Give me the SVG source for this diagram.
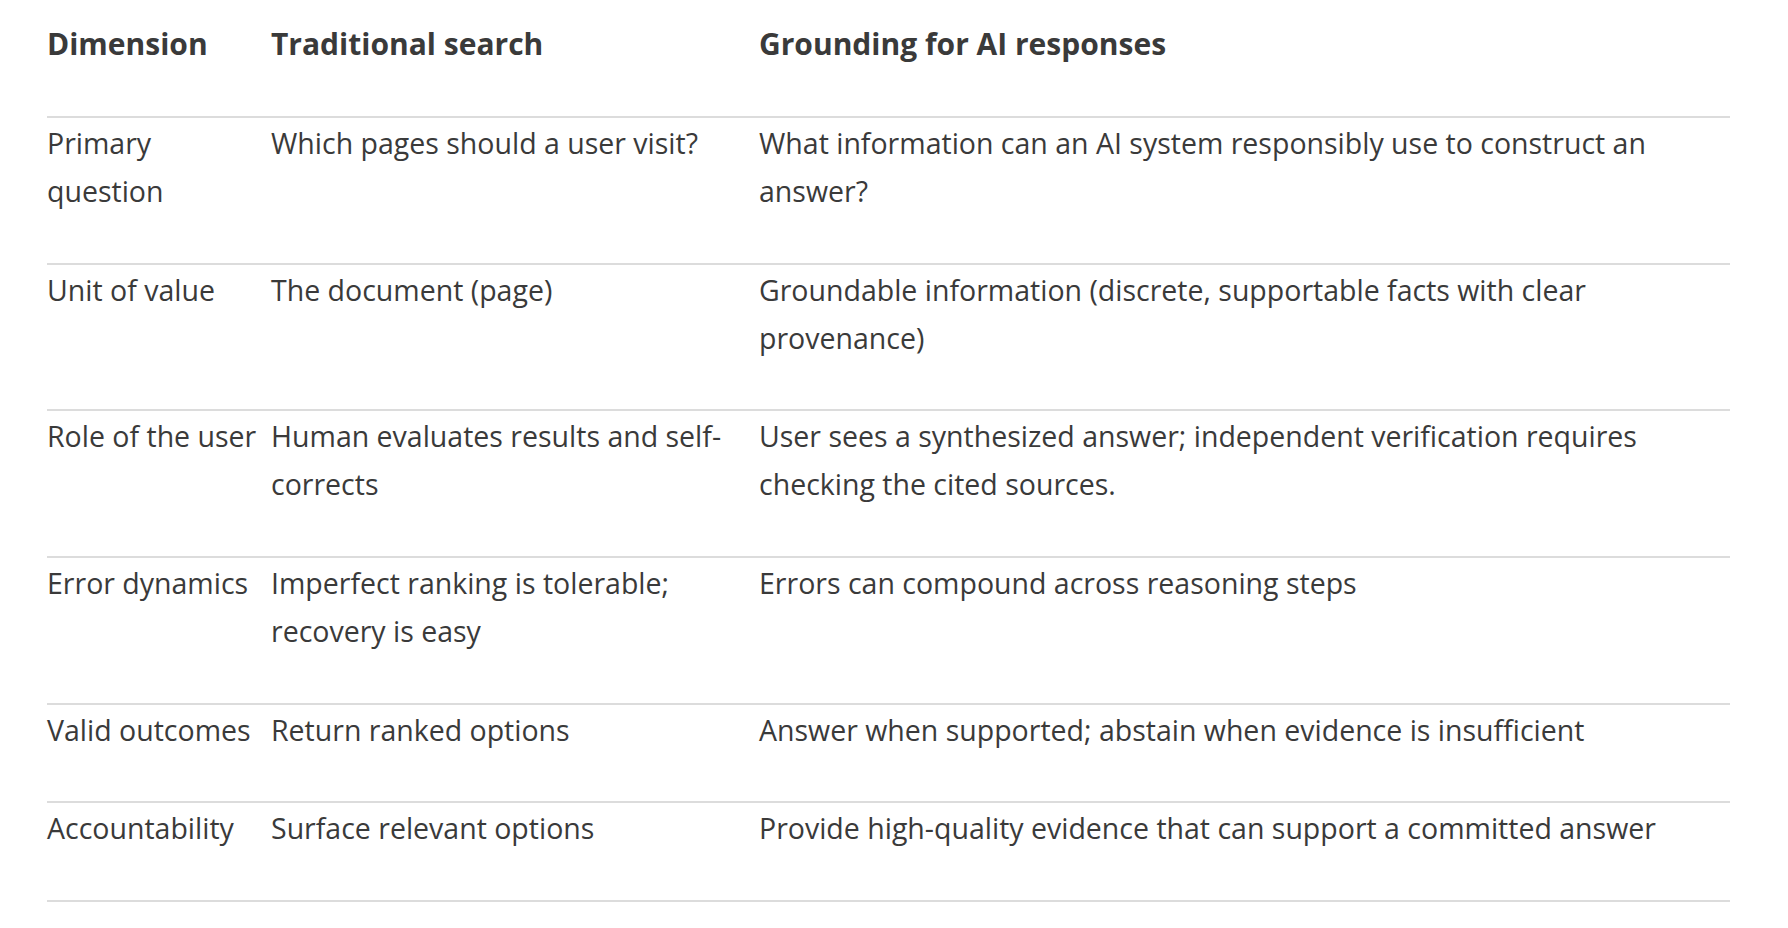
<svg xmlns="http://www.w3.org/2000/svg" width="1788" height="928" viewBox="0 0 1788 928">
<style>
text{font-family:"Open Sans","Liberation Sans",sans-serif;font-size:28.5px;fill:#3a3a3a}
.h{font-weight:bold;font-size:30px}
line{stroke:#dcdcdc;stroke-width:2}
</style>
<rect width="1788" height="928" fill="#fff"/>
<g id="header">
<text class="h" x="47" y="55">Dimension</text>
<text class="h" x="271" y="55">Traditional search</text>
<text class="h" x="759" y="55">Grounding for AI responses</text>
</g>
<g id="grid">
<line x1="47" y1="117" x2="1730" y2="117"/>
<line x1="47" y1="264" x2="1730" y2="264"/>
<line x1="47" y1="410" x2="1730" y2="410"/>
<line x1="47" y1="557" x2="1730" y2="557"/>
<line x1="47" y1="704" x2="1730" y2="704"/>
<line x1="47" y1="802" x2="1730" y2="802"/>
<line x1="47" y1="901" x2="1730" y2="901"/>
</g>
<g id="row1">
<text x="47" y="154">Primary</text><text x="47" y="202">question</text>
<text x="271" y="154">Which pages should a user visit?</text>
<text x="759" y="154">What information can an AI system responsibly use to construct an</text>
<text x="759" y="202">answer?</text>
</g>
<g id="row2">
<text x="47" y="301">Unit of value</text>
<text x="271" y="301">The document (page)</text>
<text x="759" y="301">Groundable information (discrete, supportable facts with clear</text>
<text x="759" y="349">provenance)</text>
</g>
<g id="row3">
<text x="47" y="447">Role of the user</text>
<text x="271" y="447">Human evaluates results and self-</text>
<text x="271" y="495">corrects</text>
<text x="759" y="447">User sees a synthesized answer; independent verification requires</text>
<text x="759" y="495">checking the cited sources.</text>
</g>
<g id="row4">
<text x="47" y="594">Error dynamics</text>
<text x="271" y="594">Imperfect ranking is tolerable;</text>
<text x="271" y="642">recovery is easy</text>
<text x="759" y="594">Errors can compound across reasoning steps</text>
</g>
<g id="row5">
<text x="47" y="741">Valid outcomes</text>
<text x="271" y="741">Return ranked options</text>
<text x="759" y="741">Answer when supported; abstain when evidence is insufficient</text>
</g>
<g id="row6">
<text x="47" y="839">Accountability</text>
<text x="271" y="839">Surface relevant options</text>
<text x="759" y="839">Provide high-quality evidence that can support a committed answer</text>
</g>
</svg>
